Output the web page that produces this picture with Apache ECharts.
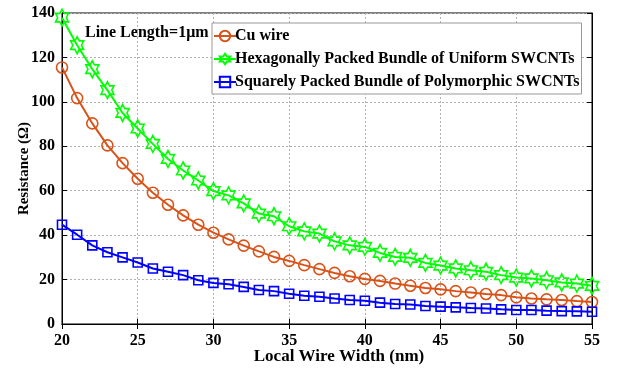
<!DOCTYPE html>
<html>
<head>
<meta charset="utf-8">
<script src="https://cdn.jsdelivr.net/npm/echarts@6/dist/echarts.min.js"></script>
<style>
  html, body { margin: 0; padding: 0; background: #fff; }
  #chart { width: 617px; height: 374px; }
</style>
</head>
<body>
<div id="chart"></div>
<script>
const widths = [20, 21, 22, 23, 24, 25, 26, 27, 28, 29, 30, 31, 32, 33, 34, 35, 36, 37,
  38, 39, 40, 41, 42, 43, 44, 45, 46, 47, 48, 49, 50, 51, 52, 53, 54, 55];

const cuWire = [115.5, 101.7, 90.3, 80.4, 72.4, 65.4, 59.1, 53.7, 48.9, 44.7, 41.1, 38.1,
  35.3, 32.7, 30.2, 28.4, 26.5, 24.7, 23.0, 21.5, 20.3, 19.4, 18.2, 17.2, 16.2, 15.6,
  14.8, 14.2, 13.5, 13.0, 12.0, 11.5, 11.1, 10.8, 10.3, 9.9];

const hexBundle = [137.9, 125.5, 114.7, 105.3, 95.0, 88.0, 81.1, 74.3, 69.1, 64.6, 59.8,
  57.9, 54.3, 49.7, 48.5, 44.0, 41.7, 40.7, 37.2, 35.4, 34.7, 32.0, 30.2, 29.8, 27.5,
  26.3, 25.0, 24.2, 23.5, 22.0, 20.9, 20.5, 19.7, 18.7, 18.2, 17.2];

const sqBundle = [44.7, 40.2, 35.4, 32.3, 30.0, 27.7, 25.0, 23.5, 22.0, 19.7, 18.5, 17.9,
  16.7, 15.3, 14.8, 13.6, 12.7, 12.3, 11.5, 10.8, 10.5, 9.6, 9.0, 8.8, 8.1, 7.8, 7.5,
  7.2, 7.0, 6.6, 6.3, 6.3, 6.0, 5.8, 5.7, 5.5];

const FONT = "'Liberation Serif', 'Times New Roman', serif";
const COLORS = { cu: "#D95319", hex: "#00FF00", sq: "#0000FF" };

// six-pointed star outline, like MATLAB's hexagram marker
const HEXAGRAM = "path://M100,0 L128.87,50 L186.6,50 L157.7,100 L186.6,150 L128.87,150 " +
  "L100,200 L71.13,150 L13.4,150 L42.3,100 L13.4,50 L71.13,50 Z";

function pairs(ys) {
  return widths.map((x, i) => [x, ys[i]]);
}

function lineSeries(name, data, color, symbol, size) {
  return {
    type: "line",
    name,
    data: pairs(data),
    symbol,
    symbolSize: size,
    symbolKeepAspect: true,
    showAllSymbol: true,
    lineStyle: { color, width: 2 },
    itemStyle: { color: "rgba(255,255,255,0)", borderColor: color, borderWidth: 1.6 },
    emphasis: { disabled: true },
    z: 3,
  };
}

const axisText = { color: "#000", fontFamily: FONT, fontWeight: "bold", fontSize: 16 };
const gridLine = { show: true, lineStyle: { color: "#b0b0b0", type: [2, 2], width: 1 } };

const chart = echarts.init(document.getElementById("chart"), null, { renderer: "canvas" });
chart.setOption({
  animation: false,
  backgroundColor: "#fff",
  grid: {
    left: 62, right: 25, top: 13, bottom: 50,
    outerBoundsMode: "none", containLabel: false,
    show: true, borderColor: "#000", borderWidth: 1,
  },
  xAxis: [
    {
      type: "value", min: 20, max: 55, interval: 5,
      name: "Local Wire Width (nm)", nameLocation: "middle", nameGap: 24,
      nameMoveOverlap: false,
      nameTextStyle: { ...axisText, fontSize: 17, padding: [0, 0, 0, 24] },
      axisLine: { lineStyle: { color: "#000", width: 1 } },
      axisTick: { inside: true, length: 5, lineStyle: { color: "#000" } },
      axisLabel: { ...axisText, margin: 9 },
      splitLine: gridLine,
    },
    {
      type: "value", min: 20, max: 55, interval: 5, position: "top",
      axisLine: { lineStyle: { color: "#000" } },
      axisTick: { inside: true, length: 5, lineStyle: { color: "#000" } },
      axisLabel: { show: false }, splitLine: { show: false },
    },
  ],
  yAxis: [
    {
      type: "value", min: 0, max: 140, interval: 20,
      name: "Resistance (Ω)", nameLocation: "middle", nameGap: 30,
      nameMoveOverlap: false,
      nameTextStyle: { ...axisText, fontSize: 15 },
      axisLine: { show: true, lineStyle: { color: "#000", width: 1 } },
      axisTick: { show: true, inside: true, length: 5, lineStyle: { color: "#000" } },
      axisLabel: { ...axisText, margin: 7 },
      splitLine: gridLine,
    },
    {
      type: "value", min: 0, max: 140, interval: 20, position: "right",
      axisLine: { show: true, lineStyle: { color: "#000" } },
      axisTick: { show: true, inside: true, length: 5, lineStyle: { color: "#000" } },
      axisLabel: { show: false }, splitLine: { show: false },
    },
  ],
  legend: {
    orient: "vertical",
    left: 212, top: 23,
    itemWidth: 22, itemHeight: 13, itemGap: 7,
    padding: [5, 2, 4, 1],
    backgroundColor: "#fff",
    borderColor: "#999", borderWidth: 1,
    textStyle: { ...axisText, padding: [0, 0, 0, -6] },
    data: ["Cu wire", "Hexagonally Packed Bundle of Uniform SWCNTs",
      "Squarely Packed Bundle of Polymorphic SWCNTs"],
  },
  graphic: [
    {
      type: "text", left: 85, top: 25, z: 10,
      style: { text: "Line Length=1μm", fill: "#000", font: "bold 16px " + FONT },
    },
  ],
  series: [
    lineSeries("Cu wire", cuWire, COLORS.cu, "circle", 11),
    lineSeries("Hexagonally Packed Bundle of Uniform SWCNTs", hexBundle, COLORS.hex, HEXAGRAM, [15, 17]),
    lineSeries("Squarely Packed Bundle of Polymorphic SWCNTs", sqBundle, COLORS.sq, "rect", 9),
  ],
});
</script>
</body>
</html>
